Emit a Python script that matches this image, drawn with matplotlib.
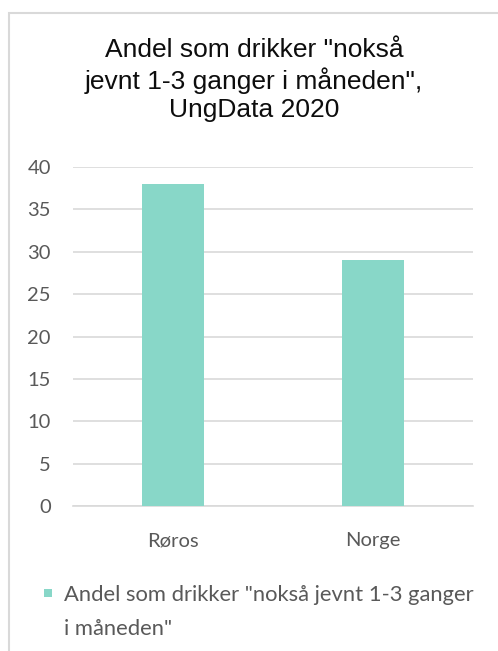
import matplotlib
matplotlib.use("Agg")
import matplotlib.pyplot as plt
from matplotlib.patches import Rectangle
from matplotlib.container import BarContainer
from matplotlib.legend_handler import HandlerPatch

categories = ["Røros", "Norge"]
values = [38, 29]
series_label = 'Andel som drikker "nokså jevnt 1-3 ganger\ni måneden"'
title = 'Andel som drikker "nokså\njevnt 1-3 ganger i måneden",\nUngData 2020'
yticks = [0, 5, 10, 15, 20, 25, 30, 35, 40]

bar_color = "#88d7c8"
grid_color = "#d9d9d9"
text_color = "#595959"
body_font = ["Lato", "DejaVu Sans"]

W, H = 498, 651
fig = plt.figure(figsize=(W / 100, H / 100), dpi=100)

# chart area border (cut off at right/bottom like the screenshot)
fig.patches.append(Rectangle((9 / W, -0.1), 1.2, 1 - 13 / H + 0.1,
                             transform=fig.transFigure, fill=False,
                             edgecolor=grid_color, linewidth=1.5))

ax = fig.add_axes([73 / W, (H - 506) / H, 400 / W, 339 / H])
ax.bar(range(len(categories)), values, width=0.31, color=bar_color,
       label=series_label, zorder=3)
ax.set_xlim(-0.5, 1.5)
ax.set_ylim(0, 40)
ax.set_yticks(yticks)
ax.set_xticks(range(len(categories)))
ax.set_xticklabels(categories)
ax.grid(axis="y", color=grid_color, linewidth=1.2, zorder=0)
for s in ["top", "right", "left"]:
    ax.spines[s].set_visible(False)
ax.spines["bottom"].set_color(grid_color)
ax.spines["bottom"].set_linewidth(1.2)
ax.tick_params(length=0, colors=text_color)
ax.tick_params(axis="y", pad=16)
ax.tick_params(axis="x", pad=19)
for lbl in ax.get_xticklabels() + ax.get_yticklabels():
    lbl.set_family(body_font)
    lbl.set_fontsize(14.5)

fig.text(254 / W, 1 - 38 / H, title, ha="center", va="top",
         fontsize=19, family=["Liberation Sans", "DejaVu Sans"],
         color="#0d0d0d", linespacing=1.24)

LEG_FS = 15.8


def top_square(legend, orig_handle, xdescent, ydescent, width, height, fontsize):
    # put the legend square next to the first line of the wrapped label
    s = fontsize * 0.37
    return Rectangle((-xdescent, -ydescent + fontsize * 0.91), s, s)


def from_first_bar(tgt, src):
    tgt.update_from(src.patches[0])


leg = ax.legend(loc="upper left", bbox_to_anchor=(44 / W, 1 - 585 / H),
                bbox_transform=fig.transFigure, frameon=False,
                handlelength=0.37, handleheight=0.37, handletextpad=0.55,
                borderaxespad=0, borderpad=0,
                prop={"family": body_font, "size": LEG_FS},
                handler_map={BarContainer: HandlerPatch(patch_func=top_square,
                                                        update_func=from_first_bar)})
for t in leg.get_texts():
    t.set_color(text_color)
    t.set_linespacing(1.85)

fig.savefig("out.png", dpi=100)
